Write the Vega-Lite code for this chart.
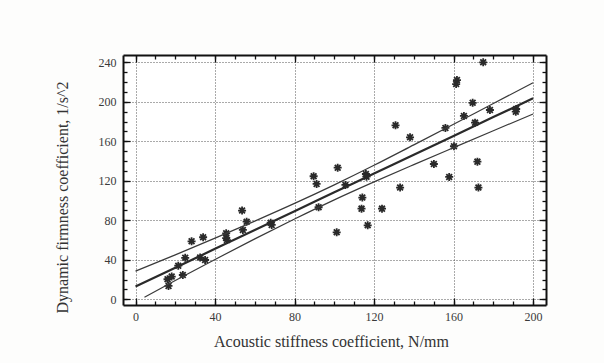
{
  "$schema": "https://vega.github.io/schema/vega-lite/v6.json",
  "width": 423,
  "height": 250,
  "autosize": {"type": "none"},
  "padding": {"left": 123, "top": 55, "right": 58, "bottom": 58},
  "background": "#fdfdfc",
  "config": {
    "view": {"stroke": null, "fill": "#ffffff"},
    "font": "Liberation Serif",
    "axis": {
      "labelFont": "Liberation Serif",
      "labelFontSize": 12,
      "labelColor": "#3a3a3a",
      "titleFont": "Liberation Serif",
      "titleFontSize": 16,
      "titleFontWeight": "normal",
      "titleColor": "#333",
      "domain": false,
      "domainColor": "#111",
      "domainWidth": 2,
      "tickColor": "#111",
      "tickWidth": 1.3,
      "gridColor": "#555",
      "gridDash": [1, 2],
      "gridWidth": 1
    }
  },
  "datasets": {
    "pts": [
      {"a": 16.1, "d": 20.3}, {"a": 16.6, "d": 13.5}, {"a": 18.2, "d": 23}, {"a": 21.5, "d": 34},
      {"a": 23.8, "d": 24.6}, {"a": 25, "d": 42}, {"a": 28.2, "d": 58.7}, {"a": 34, "d": 62.8},
      {"a": 32.5, "d": 42.2}, {"a": 35, "d": 39.8}, {"a": 45.6, "d": 66.8}, {"a": 45.6, "d": 62},
      {"a": 46, "d": 60}, {"a": 53.6, "d": 89.8}, {"a": 54, "d": 70.2}, {"a": 55.9, "d": 78.6},
      {"a": 68, "d": 77.6}, {"a": 68.5, "d": 75.3}, {"a": 89.6, "d": 124.6}, {"a": 91.1, "d": 116.8},
      {"a": 92.1, "d": 93.2}, {"a": 101.7, "d": 133.3}, {"a": 101.2, "d": 67.8}, {"a": 105.6, "d": 115.8},
      {"a": 114.1, "d": 103}, {"a": 113.7, "d": 91.8}, {"a": 115.9, "d": 126.9}, {"a": 116.2, "d": 124.2},
      {"a": 116.8, "d": 74.9}, {"a": 124, "d": 91.8}, {"a": 130.8, "d": 176.2}, {"a": 133.1, "d": 113.1},
      {"a": 138.1, "d": 164}, {"a": 150.1, "d": 137}, {"a": 155.9, "d": 173.5}, {"a": 157.8, "d": 123.9},
      {"a": 160.2, "d": 155}, {"a": 161.7, "d": 222}, {"a": 161.3, "d": 218}, {"a": 165.2, "d": 185.7},
      {"a": 169.6, "d": 199}, {"a": 170.8, "d": 178.9}, {"a": 172, "d": 139.4}, {"a": 172.5, "d": 113.1},
      {"a": 174.9, "d": 240}, {"a": 178.3, "d": 191.7}, {"a": 191.5, "d": 192.7}, {"a": 191.3, "d": 190}
    ],
    "fit": [
      {"a": 0, "d": 13}, {"a": 20, "d": 32}, {"a": 40, "d": 51.1}, {"a": 60, "d": 70.2},
      {"a": 80, "d": 89.2}, {"a": 100, "d": 108.3}, {"a": 120, "d": 127.3}, {"a": 140, "d": 146.4},
      {"a": 160, "d": 165.4}, {"a": 180, "d": 184.5}, {"a": 200, "d": 203.5}
    ],
    "upper": [
      {"a": 0, "d": 28.5}, {"a": 20, "d": 45}, {"a": 40, "d": 61.9}, {"a": 60, "d": 79.2},
      {"a": 80, "d": 97.1}, {"a": 100, "d": 115.9}, {"a": 120, "d": 135.7}, {"a": 140, "d": 156.4},
      {"a": 160, "d": 177.2}, {"a": 180, "d": 198.3}, {"a": 200, "d": 219.3}
    ],
    "lower": [
      {"a": 4.5, "d": 2}, {"a": 20, "d": 19}, {"a": 40, "d": 40.3}, {"a": 60, "d": 61.2},
      {"a": 80, "d": 81.3}, {"a": 100, "d": 100.7}, {"a": 120, "d": 118.9}, {"a": 140, "d": 136.4},
      {"a": 160, "d": 153.6}, {"a": 180, "d": 170.7}, {"a": 200, "d": 187.7}
    ]
  },
  "resolve": {"scale": {"x": "shared", "y": "shared"}, "axis": {"x": "independent", "y": "independent"}},
  "layer": [
    {
      "data": {"name": "pts"},
      "mark": {
        "type": "point",
        "shape": "M-1,0L1,0M0,-1L0,1M-0.72,-0.72L0.72,0.72M-0.72,0.72L0.72,-0.72",
        "filled": false,
        "stroke": "#2a2a2a",
        "strokeWidth": 1.8,
        "size": 64,
        "opacity": 1
      },
      "encoding": {
        "x": {
          "field": "a", "type": "quantitative",
          "scale": {"domain": [-6.3, 206.5], "nice": false, "zero": false},
          "axis": {
            "orient": "bottom",
            "values": [0, 40, 80, 120, 160, 200],
            "tickSize": -7,
            "labelPadding": 13,
            "domain": true,
            "grid": true,
            "title": "Acoustic stiffness coefficient, N/mm",
            "titleBaseline": "middle",
            "titleX": 208,
            "titleY": 36
          }
        },
        "y": {
          "field": "d", "type": "quantitative",
          "scale": {"domain": [-5.8, 247.4], "nice": false, "zero": false},
          "axis": {
            "orient": "left",
            "values": [0, 40, 80, 120, 160, 200, 240],
            "tickSize": -7,
            "labelPadding": 14,
            "domain": true,
            "grid": true,
            "title": "Dynamic firmness coefficient, 1/s^2",
            "titleBaseline": "middle",
            "titleAngle": 270,
            "titleX": -61,
            "titleY": 142
          }
        }
      }
    },
    {
      "data": {"name": "fit"},
      "mark": {"type": "line", "stroke": "#2a2a2a", "strokeWidth": 2.2, "interpolate": "monotone"},
      "encoding": {
        "x": {
          "field": "a", "type": "quantitative",
          "axis": {"orient": "bottom", "values": [0,10,20,30,40,50,60,70,80,90,100,110,120,130,140,150,160,170,180,190,200], "tickSize": -4, "labels": false, "grid": false, "title": null}
        },
        "y": {
          "field": "d", "type": "quantitative",
          "axis": {"orient": "left", "values": [0,10,20,30,40,50,60,70,80,90,100,110,120,130,140,150,160,170,180,190,200,210,220,230,240], "tickSize": -4, "labels": false, "grid": false, "title": null}
        }
      }
    },
    {
      "data": {"name": "upper"},
      "mark": {"type": "line", "stroke": "#3a3a3a", "strokeWidth": 1.2, "interpolate": "monotone"},
      "encoding": {
        "x": {
          "field": "a", "type": "quantitative",
          "axis": {"orient": "top", "values": [0, 40, 80, 120, 160, 200], "tickSize": -7, "domain": true, "labels": false, "grid": false, "title": null}
        },
        "y": {
          "field": "d", "type": "quantitative",
          "axis": {"orient": "right", "values": [0, 40, 80, 120, 160, 200, 240], "tickSize": -7, "domain": true, "labels": false, "grid": false, "title": null}
        }
      }
    },
    {
      "data": {"name": "lower"},
      "mark": {"type": "line", "stroke": "#3a3a3a", "strokeWidth": 1.2, "interpolate": "monotone"},
      "encoding": {
        "x": {
          "field": "a", "type": "quantitative",
          "axis": {"orient": "top", "values": [0,10,20,30,40,50,60,70,80,90,100,110,120,130,140,150,160,170,180,190,200], "tickSize": -4, "labels": false, "grid": false, "title": null}
        },
        "y": {
          "field": "d", "type": "quantitative",
          "axis": {"orient": "right", "values": [0,10,20,30,40,50,60,70,80,90,100,110,120,130,140,150,160,170,180,190,200,210,220,230,240], "tickSize": -4, "labels": false, "grid": false, "title": null}
        }
      }
    }
  ]
}
